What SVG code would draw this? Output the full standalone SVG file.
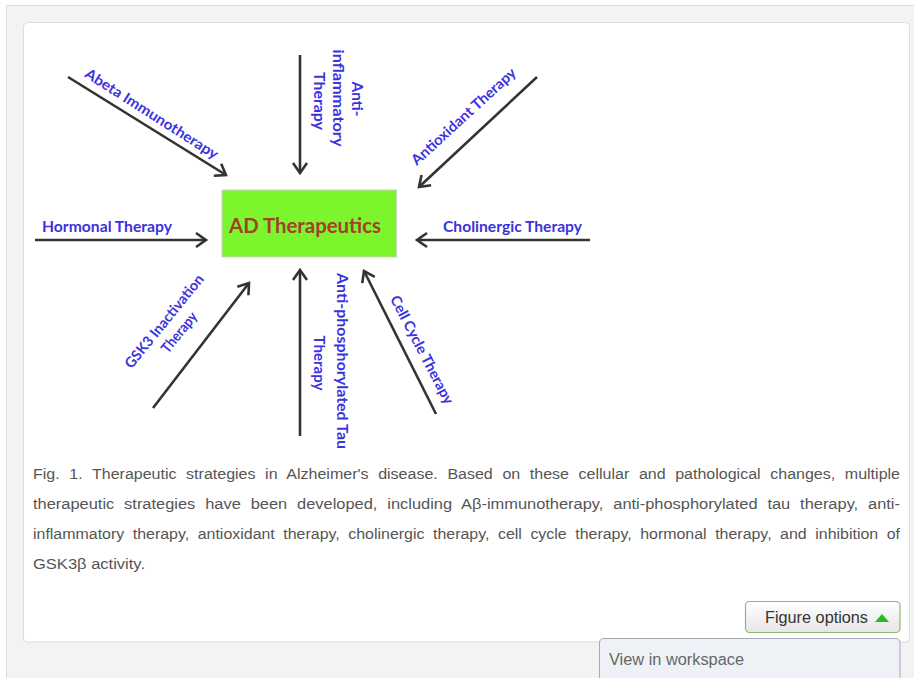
<svg xmlns="http://www.w3.org/2000/svg" width="914" height="678" viewBox="0 0 914 678">
<style>
.lbl{font-family:Lato,"Open Sans","Liberation Sans",sans-serif;font-weight:700;font-size:14.5px;fill:#3b32e0}
.cap{font-family:"Liberation Sans",Arial,sans-serif;font-size:15.5px;fill:#555}
.conn{stroke:#333;stroke-width:2.6;fill:none;marker-end:url(#ah)}
</style>
<defs>
<marker id="ah" viewBox="-13 -9 16 18" refX="0" refY="0" markerWidth="16" markerHeight="18" markerUnits="userSpaceOnUse" orient="auto">
<path d="M-10,-7 L0,0 L-10,7" fill="none" stroke="#333" stroke-width="2.6" stroke-linejoin="miter"/>
</marker>
<linearGradient id="btn" x1="0" y1="0" x2="0" y2="1">
<stop offset="0" stop-color="#ffffff"/>
<stop offset="1" stop-color="#e6e6e6"/>
</linearGradient>
</defs>
<rect x="0" y="0" width="914" height="678" fill="#ffffff"/>
<rect x="6.5" y="5.5" width="920" height="690" fill="#f3f3f3" stroke="#dddddd"/>
<rect x="23.5" y="22.5" width="886" height="619.5" rx="4" fill="#ffffff" stroke="#dcdcdc"/>

<g id="connectors">
<line class="conn" x1="68" y1="77" x2="226" y2="175"/>
<line class="conn" x1="300" y1="55" x2="300" y2="173"/>
<line class="conn" x1="537" y1="77" x2="419" y2="187"/>
<line class="conn" x1="35" y1="240" x2="206" y2="240"/>
<line class="conn" x1="590" y1="240" x2="417" y2="240"/>
<line class="conn" x1="153" y1="408" x2="249" y2="283"/>
<line class="conn" x1="300" y1="436" x2="300" y2="270"/>
<line class="conn" x1="436" y1="414" x2="364" y2="271"/>
</g>

<g id="center">
<rect x="222" y="190" width="174.5" height="67" fill="#7df52c" stroke="#c8d8c0" stroke-width="1"/>
<text x="305" y="233" text-anchor="middle" textLength="152" lengthAdjust="spacingAndGlyphs" style="font-family:Lato,'Open Sans',sans-serif;font-weight:700;font-size:20.5px;fill:#a3402a">AD Therapeutics</text>
</g>

<g id="abeta">
<text class="lbl" transform="translate(149,118) rotate(32.5)" text-anchor="middle" textLength="155" lengthAdjust="spacingAndGlyphs">Abeta  Immunotherapy</text>
</g>
<g id="anti-inflammatory">
<text class="lbl" transform="translate(352,99) rotate(90)" text-anchor="middle" textLength="35" lengthAdjust="spacingAndGlyphs">Anti-</text>
<text class="lbl" transform="translate(333,98) rotate(90)" text-anchor="middle" textLength="97" lengthAdjust="spacingAndGlyphs">inflammatory</text>
<text class="lbl" transform="translate(314,101) rotate(90)" text-anchor="middle" textLength="58" lengthAdjust="spacingAndGlyphs">Therapy</text>
</g>
<g id="antioxidant">
<text class="lbl" transform="translate(467,120) rotate(-42.5)" text-anchor="middle" textLength="136" lengthAdjust="spacingAndGlyphs">Antioxidant Therapy</text>
</g>
<g id="hormonal">
<text class="lbl" x="42" y="232" textLength="130" lengthAdjust="spacingAndGlyphs">Hormonal Therapy</text>
</g>
<g id="cholinergic">
<text class="lbl" x="443" y="232" textLength="139" lengthAdjust="spacingAndGlyphs">Cholinergic Therapy</text>
</g>
<g id="gsk3">
<text class="lbl" transform="translate(168,324.5) rotate(-51)" text-anchor="middle" textLength="116" lengthAdjust="spacingAndGlyphs">GSK3 Inactivation</text>
<text class="lbl" transform="translate(183,335.5) rotate(-51)" text-anchor="middle" textLength="48" lengthAdjust="spacingAndGlyphs">Therapy</text>
</g>
<g id="anti-tau">
<text class="lbl" transform="translate(337,361) rotate(90)" text-anchor="middle" textLength="176" lengthAdjust="spacingAndGlyphs">Anti-phosphorylated Tau</text>
<text class="lbl" transform="translate(314,363) rotate(90)" text-anchor="middle" textLength="55" lengthAdjust="spacingAndGlyphs">Therapy</text>
</g>
<g id="cell-cycle">
<text class="lbl" transform="translate(417.5,352) rotate(62.5)" text-anchor="middle" textLength="120" lengthAdjust="spacingAndGlyphs">Cell Cycle Therapy</text>
</g>

<g id="caption">
<text class="cap" x="33" y="479" textLength="867" lengthAdjust="spacingAndGlyphs" word-spacing="5">Fig. 1. Therapeutic strategies in Alzheimer's disease. Based on these cellular and pathological changes, multiple</text>
<text class="cap" x="33" y="509" textLength="867" lengthAdjust="spacingAndGlyphs" word-spacing="5">therapeutic strategies have been developed, including Aβ-immunotherapy, anti-phosphorylated tau therapy, anti-</text>
<text class="cap" x="33" y="539" textLength="867" lengthAdjust="spacingAndGlyphs" word-spacing="4">inflammatory therapy, antioxidant therapy, cholinergic therapy, cell cycle therapy, hormonal therapy, and inhibition of</text>
<text class="cap" x="33" y="569" textLength="112" lengthAdjust="spacingAndGlyphs">GSK3β activity.</text>
</g>

<g id="figure-options">
<rect x="745.5" y="601.5" width="154.5" height="31" rx="4" fill="url(#btn)" stroke="#8db86e" stroke-width="1.2"/>
<text x="765" y="623" textLength="103" lengthAdjust="spacingAndGlyphs" style="font-family:'Liberation Sans',Arial,sans-serif;font-size:16px;fill:#333">Figure options</text>
<polygon points="875,622 889,622 882,614" fill="#22bb22"/>
</g>
<g id="dropdown">
<path d="M599.5,680 V643 Q599.5,638.5 604,638.5 H895.5 Q900,638.5 900,643 V680" fill="#eef2f7" stroke="#a2aab2"/>
<text x="609" y="665" textLength="135" lengthAdjust="spacingAndGlyphs" style="font-family:'Liberation Sans',Arial,sans-serif;font-size:16px;fill:#666">View in workspace</text>
</g>
</svg>
